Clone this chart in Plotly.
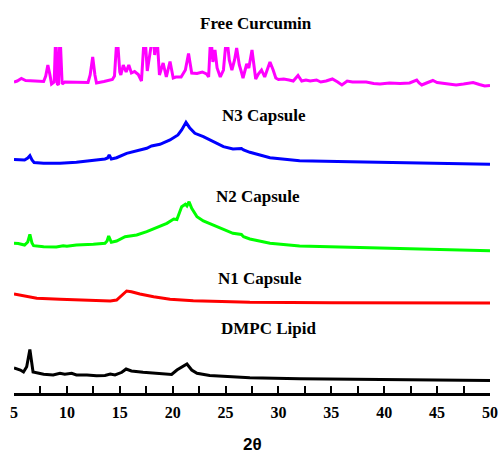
import plotly.graph_objects as go

# ---- XRD patterns (2θ in degrees, intensity in arbitrary units) ----
curcumin_2theta = [5.0, 5.3, 5.7, 6.1, 7.0, 7.8, 8.0, 8.2, 8.4, 8.55, 8.8, 8.95, 9.1, 9.2, 9.35,
                   9.55, 9.8, 11.0, 12.0, 12.2, 12.44, 12.65, 12.8, 13.5, 14.3, 14.5, 14.75, 15.0,
                   15.1, 15.33, 15.6, 15.85, 16.1, 16.4, 16.75, 17.05, 17.35, 17.6, 18.15, 18.3,
                   18.5, 18.75, 19.1, 19.4, 19.75, 20.05, 20.3, 20.8, 21.2, 21.5, 21.8, 22.3, 22.8,
                   23.2, 23.4, 23.6, 23.8, 24.0, 24.2, 24.5, 24.8, 25.1, 25.35, 25.6, 25.85, 26.05,
                   26.3, 26.5, 26.65, 27.0, 27.2, 27.5, 27.85, 28.1, 28.4, 28.7, 29.2, 29.5, 29.75,
                   30.0, 30.5, 31.0, 31.4, 31.85, 32.2, 32.6, 33.0, 33.6, 34.0, 34.5, 35.1, 35.6,
                   36.0, 36.5, 37.0, 37.5, 38.3, 39.0, 39.6, 40.5, 41.5, 42.4, 42.8, 43.07, 43.3,
                   43.55, 44.0, 44.6, 45.0, 45.6, 46.3, 46.8, 47.5, 48.4, 49.0, 49.5, 50.0]
curcumin_int = [8, 9, 11.5, 9.5, 9, 8.5, 14, 25, 15, 6, 8, 58, 6, 5, 57,
                6, 8, 7.5, 7.5, 15, 33, 15, 7, 8.5, 10.5, 14, 56, 18,
                15, 25, 18, 25, 17, 18.5, 15.5, 9, 60, 19, 57, 35,
                57, 15, 27, 13, 28.5, 12, 13, 13, 20, 36.5, 17, 16.5, 18,
                16, 13, 56, 28, 40, 22, 13, 20, 55, 30, 20, 30, 42,
                25, 18, 12, 26, 22, 40, 11, 16, 20, 13, 28, 20, 12,
                10.5, 11, 10, 9, 14.5, 9, 10, 9, 10, 8, 9, 11, 8,
                5, 9, 8, 8, 8, 6.5, 6, 7, 6.5, 7, 8.5, 10, 7,
                5, 7, 9.5, 7.5, 6.5, 6, 5, 6, 7.5, 5.5, 4, 4.5]

n3_2theta = [5.0, 5.4, 6.0, 6.3, 6.5, 6.7, 6.9, 7.8, 9.35, 10.9, 12.5, 13.6, 13.85, 14.0, 14.2,
             14.7, 15.65, 16.6, 17.55, 18.0, 18.8, 19.75, 20.5, 20.85, 21.26, 21.6, 22.1, 22.9,
             23.8, 24.8, 25.7, 26.5, 26.7, 27.3, 29.2, 32.0, 36.8, 41.5, 46.2, 50.0]
n3_int = [10.5, 10.5, 10, 12, 14.3, 10, 7.5, 6.7, 6.7, 7.7, 9.3, 11, 12, 15, 11,
          12.3, 16.7, 19.3, 21.7, 24, 25.7, 30, 35, 40, 47.7, 42.3, 36.7, 33.3,
          28.3, 23.3, 21, 21.5, 20, 17.7, 12.3, 9.3, 8.3, 7.3, 6.7, 5.7]

n2_2theta = [5.0, 5.4, 6.0, 6.3, 6.5, 6.7, 6.85, 7.8, 9.0, 9.4, 9.65, 10.0, 10.9, 12.5, 13.6,
             13.8, 13.95, 14.2, 14.7, 15.5, 16.6, 17.55, 18.5, 19.45, 20.1, 20.4, 20.85, 21.2,
             21.35, 21.55, 21.8, 22.3, 22.9, 23.8, 24.8, 25.7, 26.5, 26.7, 27.3, 29.2, 32.0,
             36.8, 41.5, 46.2, 50.0]
n2_int = [11.7, 11.5, 10, 13, 20.7, 12, 9.3, 8.3, 8, 8.5, 9.3, 8.7, 10, 10.7, 11.7,
          14, 19, 12.7, 14, 18.3, 20, 23.3, 27.3, 31.7, 36, 35.5, 48.3, 50.7,
          49, 53.3, 46.7, 38.3, 34, 30, 25, 21.7, 20.5, 18.3, 16, 11.7, 9,
          7.7, 6.7, 5.7, 4.3]

n1_2theta = [5.0, 6.2, 7.15, 9.35, 10.9, 12.5, 14.1, 14.7, 15.2, 15.65, 16.1, 16.9, 18.2,
             19.75, 21.95, 25.1, 27.3, 35.0, 42.0, 50.0]
n1_int = [11, 8.3, 6.7, 5.7, 5, 4.3, 4, 5, 10, 14, 13.3, 11, 8.3,
          5.7, 4.3, 3.3, 2.7, 2.3, 2.3, 2]

dmpc_2theta = [5.0, 5.6, 5.9, 6.2, 6.5, 6.8, 7.8, 8.7, 9.35, 9.8, 10.45, 10.9, 11.9, 12.8,
               13.6, 14.1, 14.55, 15.2, 15.6, 16.1, 17.2, 18.8, 19.9, 20.4, 21.0, 21.35, 21.8,
               22.3, 23.5, 25.1, 27.3, 32.0, 37.0, 42.0, 50.0]
dmpc_int = [17, 15, 13, 18.3, 35.5, 13, 10.7, 10, 11.7, 10.7, 11.7, 10, 10, 9.3,
            9.5, 11, 10, 12.7, 16, 14, 12.7, 11.7, 10.5, 15, 18.3, 21, 15,
            11.7, 9.5, 8.3, 7.3, 6.3, 5.7, 5.2, 4.5]

x_ticks = [5, 10, 15, 20, 25, 30, 35, 40, 45, 50]

# Vertical stacking offset of each pattern, and its label placement (paper y)
series = [
    ("Free Curcumin", curcumin_2theta, curcumin_int, 303, "#FF00FF", 27.92, 1.068),
    ("N3 Capsule", n3_2theta, n3_int, 223, "#0000FF", 28.59, 0.803),
    ("N2 Capsule", n2_2theta, n2_int, 138, "#00FF00", 28.10, 0.567),
    ("N1 Capsule", n1_2theta, n1_int, 88, "#FF0000", 28.30, 0.330),
    ("DMPC Lipid", dmpc_2theta, dmpc_int, 8, "#000000", 29.08, 0.187),
]

serif = "Times New Roman, Liberation Serif, serif"

fig = go.Figure()
annotations = []
for name, tt, inten, offset, color, lx, ly in series:
    fig.add_trace(go.Scatter(
        x=tt, y=[v + offset for v in inten], mode="lines", name=name,
        line=dict(color=color, width=3), showlegend=False,
    ))
    annotations.append(dict(
        text=f"<b>{name}</b>", x=lx, y=ly, xref="x", yref="paper",
        showarrow=False, xanchor="center", yanchor="middle",
        font=dict(family=serif, size=17, color="black"),
    ))

# x-axis title (2θ) placed below the tick labels
annotations.append(dict(
    text="<b>2θ</b>", x=0.5, y=-0.150, xref="paper", yref="paper",
    showarrow=False, xanchor="center", yanchor="middle",
    font=dict(family="Arial, Liberation Sans, sans-serif", size=17, color="black"),
))

fig.update_layout(
    width=500, height=454,
    margin=dict(l=14, r=10, t=47, b=61, autoexpand=False),
    paper_bgcolor="white", plot_bgcolor="white",
    annotations=annotations,
    xaxis=dict(
        range=[5, 50], tickvals=x_ticks, ticktext=[f"<b>{v}</b>" for v in x_ticks],
        automargin=False,
        showline=True, linecolor="black", linewidth=2.5,
        ticks="inside", ticklen=7, tickwidth=2, tickcolor="black",
        minor=dict(dtick=2.5, tick0=5, ticks="inside", ticklen=7, tickwidth=2,
                   tickcolor="black", showgrid=False),
        showgrid=False, zeroline=False,
        ticklabelstandoff=3,
        tickfont=dict(family=serif, size=16, color="black"),
    ),
    yaxis=dict(range=[0, 346], visible=False, showgrid=False, zeroline=False),
)

fig.write_html("out.html")
